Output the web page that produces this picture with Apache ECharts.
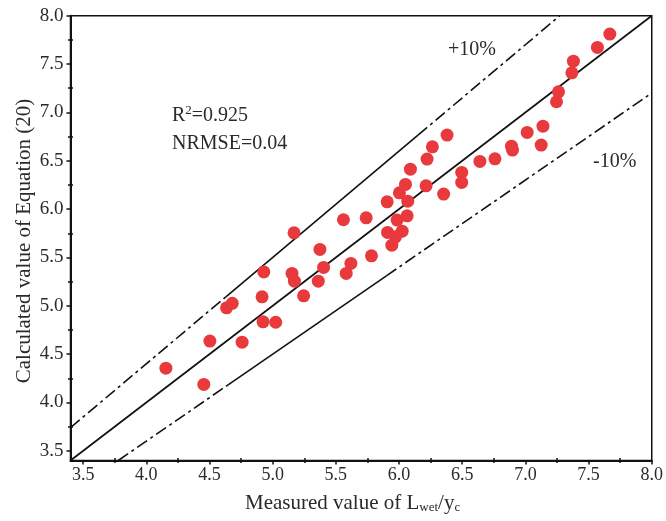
<!DOCTYPE html>
<html><head><meta charset="utf-8">
<script src="https://cdn.jsdelivr.net/npm/echarts@6/dist/echarts.min.js"></script>
<style>html,body{margin:0;padding:0;background:#fff}#c{width:666px;height:521px}</style>
</head><body><div id="c"></div>
<script>
// ---- data ----
const measured = [4.155,4.455,4.503,4.758,4.635,4.68,4.916,4.93,4.924,5.024,5.153,5.172,5.245,5.361,5.403,5.169,5.374,5.56,5.74,5.782,5.619,5.582,5.906,5.909,5.943,5.972,6.025,5.985,6.064,6.069,6.003,6.051,6.09,6.222,6.264,6.38,6.214,6.353,6.496,6.496,6.64,6.759,6.89,6.898,7.014,7.125,7.139,7.246,7.262,7.368,7.38,7.57,7.668];
const calculated = [4.355,4.187,4.635,4.624,4.979,5.025,5.093,5.35,4.834,4.83,5.335,5.255,5.103,5.255,5.397,5.755,5.583,5.89,5.91,5.517,5.438,5.335,6.075,5.759,5.627,5.713,5.772,5.886,5.93,6.082,6.168,6.255,6.413,6.517,6.644,6.765,6.241,6.155,6.379,6.276,6.493,6.52,6.651,6.61,6.793,6.662,6.858,7.11,7.213,7.409,7.53,7.672,7.81];
const xTicks = [3.5,4.0,4.5,5.0,5.5,6.0,6.5,7.0,7.5,8.0];
const yTicks = [3.5,4.0,4.5,5.0,5.5,6.0,6.5,7.0,7.5,8.0];
const minorTicks = [3.75,4.25,4.75,5.25,5.75,6.25,6.75,7.25,7.75];
const axisRange = [3.4, 8.0];
const refRatios = [1.0, 1.1, 0.9];
const refLabels = ['+10%', '-10%'];
const statLines = ['R', '2', '=0.925', 'NRMSE=0.04'];
const xTitle = ['Measured value of L', 'wet', '/y', 'c'];
const yTitle = 'Calculated value of Equation (20)';

// ---- styling ----
const FONT = '"Liberation Serif","Times New Roman",serif';
const INK = '#111';
const TXT = '#2a2a2a';
const DASHDOT = [12, 4, 3, 4];
const solidSpan = { '1.1': [4.63, 6.15], '0.9': [4.63, 5.9] };

const ctx = document.createElement('canvas').getContext('2d');
function tw(t, s) { ctx.font = s + 'px ' + FONT; return ctx.measureText(t).width; }

const pts = measured.map((x, i) => [x, calculated[i]]);

function refSeries(r) {
  const x0 = Math.max(axisRange[0], axisRange[0] / r);
  const x1 = Math.min(axisRange[1], axisRange[1] / r);
  const base = { type: 'line', symbol: 'none', silent: true, z: 2, animation: false };
  if (r === 1) {
    return [Object.assign({}, base, { data: [[x0, x0 * r], [x1, x1 * r]], lineStyle: { color: INK, width: 1.7 } })];
  }
  const sp = solidSpan[String(r)];
  const segs = [[x0, sp[0], DASHDOT], [sp[0], sp[1], 'solid'], [sp[1], x1, DASHDOT]];
  return segs.map(s => Object.assign({}, base, {
    data: [[s[0], s[0] * r], [s[1], s[1] * r]],
    lineStyle: { color: INK, width: 1.6, type: s[2] }
  }));
}

let series = [];
refRatios.forEach(r => { series = series.concat(refSeries(r)); });
series.push({ type: 'scatter', data: pts, symbolSize: 13, z: 5,
  itemStyle: { color: '#e8393c', opacity: 1 }, animation: false });

function mainAxis(ticks, size, margin) {
  return { type: 'value', min: axisRange[0], max: axisRange[1],
    axisLine: { show: true, onZero: false, lineStyle: { color: INK, width: 2 } },
    axisTick: { show: true, customValues: ticks, length: 4, lineStyle: { color: INK, width: 1.5 } },
    axisLabel: { customValues: ticks, formatter: v => v.toFixed(1), fontFamily: FONT, fontSize: size, color: TXT, margin: margin },
    splitLine: { show: false } };
}
function minorAxis(inside) {
  return { type: 'value', min: axisRange[0], max: axisRange[1],
    axisLine: { show: false },
    axisTick: { show: true, inside: inside, customValues: minorTicks, length: 2.5, lineStyle: { color: INK, width: 1.5 } },
    axisLabel: { show: false }, splitLine: { show: false } };
}
const xs = [mainAxis(xTicks, 18, 6), minorAxis(false), minorAxis(true)].map(a => Object.assign(a, { position: 'bottom' }));
const ys = [mainAxis(yTicks, 19, 7), minorAxis(false), minorAxis(true)].map(a => Object.assign(a, { position: 'left' }));

// ---- text ----
const g = [];
function txt(t, x, y, size, extra) {
  g.push(Object.assign({ type: 'text', x: x, y: y, silent: true, z: 10,
    style: { text: t, fontFamily: FONT, fontSize: size, fill: TXT, align: 'left', verticalAlign: 'middle' } }, extra || {}));
}
// stats
let sx = 172;
txt(statLines[0], sx, 115.5, 20); sx += tw(statLines[0], 20);
txt(statLines[1], sx, 111, 13); sx += tw(statLines[1], 13);
txt(statLines[2], sx, 115.5, 20);
txt(statLines[3], 172, 143.5, 20);
// band labels
txt(refLabels[0], 448, 50, 20);
txt(refLabels[1], 593, 162, 20);
// x title
let tx = 245;
txt(xTitle[0], tx, 503, 21); tx += tw(xTitle[0], 21);
txt(xTitle[1], tx, 508, 13); tx += tw(xTitle[1], 13);
txt(xTitle[2], tx, 503, 21); tx += tw(xTitle[2], 21);
txt(xTitle[3], tx, 508, 13);
// y title
g.push({ type: 'text', x: 24, y: 241, rotation: Math.PI / 2, silent: true,
  style: { text: yTitle, fontFamily: FONT, fontSize: 21, fill: TXT, align: 'center', verticalAlign: 'middle' } });

const chart = echarts.init(document.getElementById('c'), null, { renderer: 'canvas' });
chart.setOption({
  animation: false,
  backgroundColor: '#fff',
  grid: { left: 70.5, top: 15.7, right: 12, bottom: 60.5, show: true, borderColor: INK, borderWidth: 1.5, backgroundColor: 'transparent' },
  xAxis: xs,
  yAxis: ys,
  series: series,
  graphic: g
});
</script>
</body></html>
